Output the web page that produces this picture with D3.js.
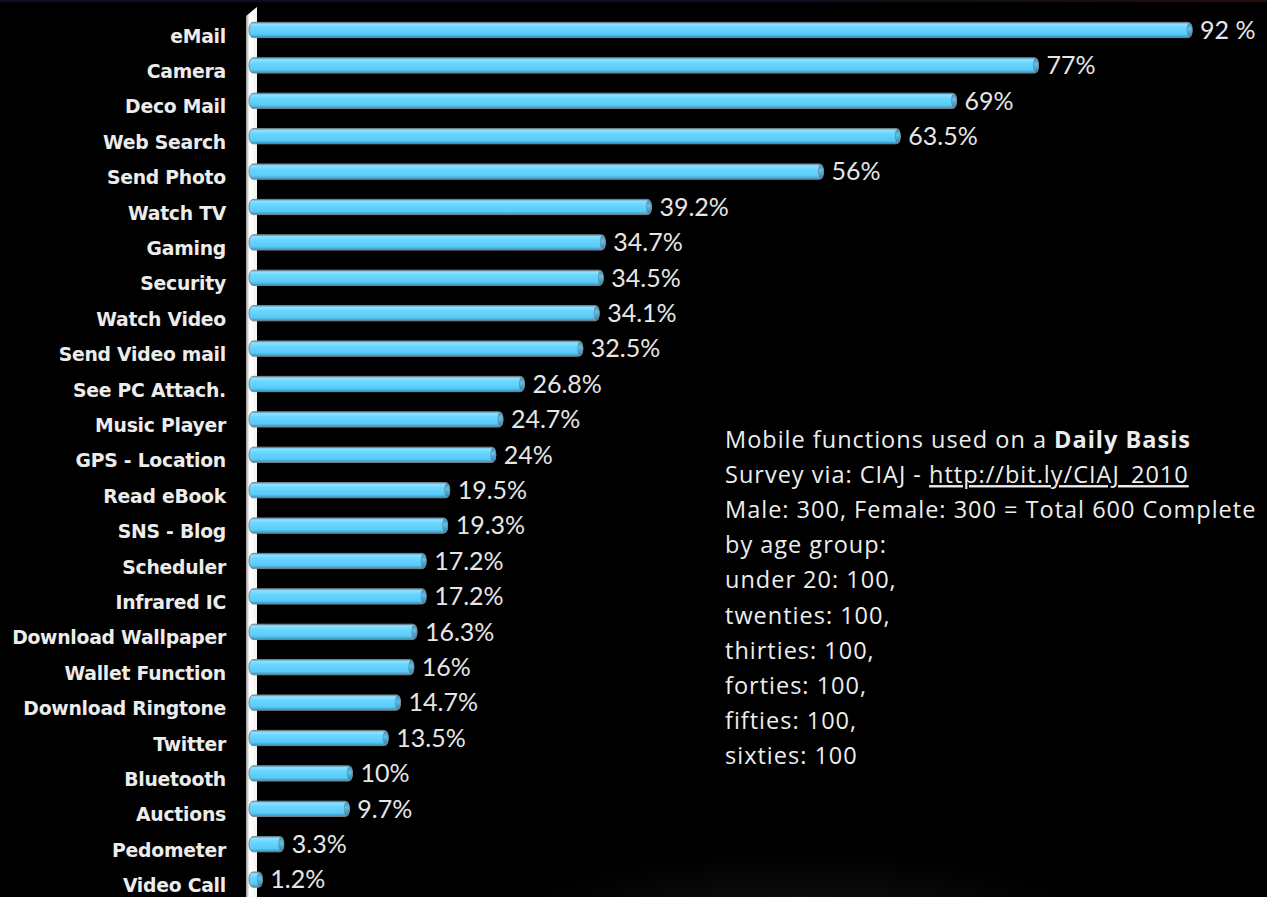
<!DOCTYPE html>
<html>
<head>
<meta charset="utf-8">
<script src="https://cdn.jsdelivr.net/npm/d3@7/dist/d3.min.js"></script>
<style>
  html, body { margin: 0; padding: 0; background: #000; }
  svg { display: block; }
</style>
</head>
<body>
<svg id="chart" width="1267" height="897"></svg>
<script>
// Mobile functions used daily (CIAJ 2010 survey), percent of respondents
const categories = [
  "eMail", "Camera", "Deco Mail", "Web Search", "Send Photo", "Watch TV",
  "Gaming", "Security", "Watch Video", "Send Video mail", "See PC Attach.",
  "Music Player", "GPS - Location", "Read eBook", "SNS - Blog", "Scheduler",
  "Infrared IC", "Download Wallpaper", "Wallet Function", "Download Ringtone",
  "Twitter", "Bluetooth", "Auctions", "Pedometer", "Video Call"
];
const values = [
  92, 77, 69, 63.5, 56, 39.2, 34.7, 34.5, 34.1, 32.5, 26.8, 24.7, 24,
  19.5, 19.3, 17.2, 17.2, 16.3, 16, 14.7, 13.5, 10, 9.7, 3.3, 1.2
];
const valueLabels = [
  "92 %", "77%", "69%", "63.5%", "56%", "39.2%", "34.7%", "34.5%", "34.1%",
  "32.5%", "26.8%", "24.7%", "24%", "19.5%", "19.3%", "17.2%", "17.2%",
  "16.3%", "16%", "14.7%", "13.5%", "10%", "9.7%", "3.3%", "1.2%"
];
const noteLines = [
  [{ t: "Mobile functions used on a " }, { t: "Daily Basis", bold: true }],
  [{ t: "Survey via: CIAJ - " }, { t: "http://bit.ly/CIAJ_2010", link: true }],
  [{ t: "Male: 300, Female: 300 = Total 600 Complete" }],
  [{ t: "by age group:" }],
  [{ t: "under 20: 100," }],
  [{ t: "twenties: 100," }],
  [{ t: "thirties: 100," }],
  [{ t: "forties: 100," }],
  [{ t: "fifties: 100," }],
  [{ t: "sixties: 100" }]
];

const data = categories.map((c, i) => ({ name: c, value: values[i], label: valueLabels[i] }));

const W = 1267, H = 897;
const svg = d3.select("#chart");
const defs = svg.append("defs");

// background
svg.append("rect").attr("width", W).attr("height", H).attr("fill", "#000");

// thin coloured strip along the top edge
const topGrad = defs.append("linearGradient").attr("id", "topStrip");
topGrad.append("stop").attr("offset", "0%").attr("stop-color", "#0c0c2c");
topGrad.append("stop").attr("offset", "60%").attr("stop-color", "#140a22");
topGrad.append("stop").attr("offset", "100%").attr("stop-color", "#221008");
svg.append("rect").attr("width", W).attr("height", 2).attr("fill", "url(#topStrip)");

// faint floor glow near the bottom
const glow = defs.append("radialGradient").attr("id", "floorGlow")
  .attr("cx", "50%").attr("cy", "50%").attr("r", "50%");
glow.append("stop").attr("offset", "0%").attr("stop-color", "#ffffff").attr("stop-opacity", 0.07);
glow.append("stop").attr("offset", "100%").attr("stop-color", "#ffffff").attr("stop-opacity", 0);
svg.append("ellipse").attr("cx", 800).attr("cy", 920).attr("rx", 300).attr("ry", 70)
  .attr("fill", "url(#floorGlow)");

// scales
const x = d3.scaleLinear().domain([0, 100]).range([250, 1274]);
const y = d3.scaleBand().domain(categories).range([12.3, 897.3])
  .paddingInner(0.57).paddingOuter(0.285);
const bh = y.bandwidth();

// white back wall acting as the value axis
const wallGrad = defs.append("linearGradient").attr("id", "wallGrad");
wallGrad.append("stop").attr("offset", "0%").attr("stop-color", "#9a9a9a");
wallGrad.append("stop").attr("offset", "30%").attr("stop-color", "#ffffff");
wallGrad.append("stop").attr("offset", "100%").attr("stop-color", "#f2f2f2");
const wl = x(0) - 4, wr = x(0) + 7;
svg.append("path")
  .attr("d", `M${wl},16 L${wr},7 L${wr},${H} L${wl},${H} Z`)
  .attr("fill", "url(#wallGrad)");

// cylinder shading for the bars
const barGrad = defs.append("linearGradient").attr("id", "barGrad")
  .attr("x1", 0).attr("y1", 0).attr("x2", 0).attr("y2", 1);
[["0%", "#4aa4cf"], ["12%", "#8ce2ff"], ["35%", "#6ad6ff"], ["78%", "#58cbf8"], ["100%", "#3890bb"]]
  .forEach(([o, c]) => barGrad.append("stop").attr("offset", o).attr("stop-color", c));
const capGrad = defs.append("linearGradient").attr("id", "capGrad")
  .attr("x1", 0).attr("y1", 0).attr("x2", 0).attr("y2", 1);
[["0%", "#3a8bb3"], ["40%", "#5cc4ee"], ["100%", "#2f7fa8"]]
  .forEach(([o, c]) => capGrad.append("stop").attr("offset", o).attr("stop-color", c));

const bars = svg.append("g").selectAll("g").data(data).join("g");
bars.append("rect")
  .attr("x", x(0) - 1)
  .attr("y", d => y(d.name))
  .attr("width", d => x(d.value) - x(0) + 1)
  .attr("height", bh)
  .attr("rx", 4).attr("ry", bh / 2)
  .attr("fill", "url(#barGrad)")
  .attr("stroke", "#7d8790").attr("stroke-width", 1);
bars.append("ellipse")
  .attr("cx", d => x(d.value) - 2.5)
  .attr("cy", d => y(d.name) + bh / 2)
  .attr("rx", 2.5).attr("ry", bh / 2 - 0.5)
  .attr("fill", "url(#capGrad)")
  .attr("stroke", "#7d8790").attr("stroke-width", 0.8);

// category labels
svg.append("g").selectAll("text").data(data).join("text")
  .attr("x", 226)
  .attr("y", d => y(d.name) + bh / 2 + 6)
  .attr("dy", "0.35em")
  .attr("text-anchor", "end")
  .attr("font-family", "DejaVu Sans")
  .attr("font-weight", "bold")
  .attr("font-size", 18.8)
  .attr("letter-spacing", -0.25)
  .attr("fill", "#ececec")
  .text(d => d.name);

// value labels
svg.append("g").selectAll("text").data(data).join("text")
  .attr("x", d => x(d.value) + 8)
  .attr("y", d => y(d.name) + bh / 2)
  .attr("dy", "0.35em")
  .attr("font-family", "Lato")
  .attr("font-size", 25)
  .attr("fill", "#e6e6e6")
  .text(d => d.label);

// survey note
const note = svg.append("g");
noteLines.forEach((parts, i) => {
  const t = note.append("text")
    .attr("x", 725).attr("y", 448 + i * 35.1)
    .attr("font-family", "Open Sans")
    .attr("font-size", 23.5)
    .attr("letter-spacing", 1)
    .attr("fill", "#ededed");
  parts.forEach(p => {
    t.append("tspan")
      .attr("font-weight", p.bold ? "bold" : null)
      .attr("text-decoration", p.link ? "underline" : null)
      .text(p.t);
  });
});
</script>
</body>
</html>
